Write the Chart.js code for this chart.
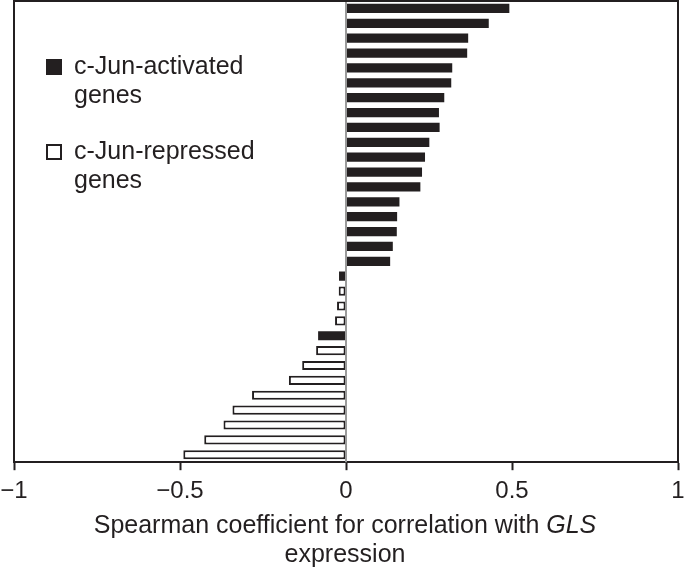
<!DOCTYPE html>
<html>
<head>
<meta charset="utf-8">
<script src="https://cdn.jsdelivr.net/npm/chart.js@4.4.0/dist/chart.umd.min.js"></script>
<style>
  body { margin: 0; background: #fff; }
  #wrap { width: 685px; height: 570px; position: relative; }
</style>
</head>
<body>
<div id="wrap"><canvas id="myChart"></canvas></div>
<script>
// genes ranked by Spearman coefficient (top to bottom)
const geneRanks = ["1","2","3","4","5","6","7","8","9","10","11","12","13","14","15","16",
    "17","18","19","20","21","22","23","24","25","26","27","28","29","30","31"];
const activatedValues = [0.492, 0.43, 0.368, 0.365, 0.32, 0.317, 0.296, 0.28, 0.282, 0.251,
    0.238, 0.229, 0.224, 0.161, 0.154, 0.153, 0.141, 0.133, -0.021, null, null, null, -0.084,
    null, null, null, null, null, null, null, null];
const repressedValues = [null, null, null, null, null, null, null, null, null, null, null, null,
    null, null, null, null, null, null, null, -0.022, -0.027, -0.033, null, -0.09, -0.132,
    -0.172, -0.283, -0.342, -0.369, -0.427, -0.49];
const legendLabels = [["c-Jun-activated", "genes"], ["c-Jun-repressed", "genes"]];
const xTicks = [-1, -0.5, 0, 0.5, 1];

const ink = "#231f20";
const fontFamily = "'Liberation Sans', Arial, sans-serif";

// box around plot area + grey zero line
const framePlugin = {
    id: "frame",
    afterDatasetsDraw(chart) {
        const { ctx, chartArea: a, scales } = chart;
        const x0 = scales.x.getPixelForValue(0);
        ctx.save();
        ctx.strokeStyle = "#9a9a9a";
        ctx.lineWidth = 2;
        ctx.beginPath();
        ctx.moveTo(x0, a.top);
        ctx.lineTo(x0, a.bottom);
        ctx.stroke();
        ctx.strokeStyle = ink;
        ctx.beginPath();
        ctx.moveTo(a.left, a.bottom);
        ctx.lineTo(a.left, a.top);
        ctx.lineTo(a.right, a.top);
        ctx.lineTo(a.right, a.bottom);
        ctx.stroke();
        ctx.restore();
    }
};

// legend in the upper left and the x axis title (GLS in italics)
const textPlugin = {
    id: "texts",
    afterDraw(chart) {
        const { ctx, chartArea: a } = chart;
        ctx.save();
        ctx.font = "25px " + fontFamily;
        ctx.fillStyle = ink;
        ctx.textBaseline = "alphabetic";

        const entries = [
            { top: 59, fill: ink, lines: legendLabels[0] },
            { top: 144, fill: "#ffffff", lines: legendLabels[1] }
        ];
        entries.forEach(e => {
            ctx.fillStyle = e.fill;
            ctx.fillRect(46, e.top, 16, 16);
            ctx.strokeStyle = ink;
            ctx.lineWidth = 2;
            ctx.strokeRect(47, e.top + 1, 14, 14);
            ctx.fillStyle = ink;
            ctx.textAlign = "left";
            e.lines.forEach((t, i) => ctx.fillText(t, 74, e.top + 15 + i * 29));
        });

        const part1 = "Spearman coefficient for correlation with ";
        const part2 = "GLS";
        const regular = "25px " + fontFamily;
        const italic = "italic 25px " + fontFamily;
        ctx.font = regular;
        const w1 = ctx.measureText(part1).width;
        ctx.font = italic;
        const w2 = ctx.measureText(part2).width;
        const cx = (a.left + a.right) / 2 - 1;
        const start = cx - (w1 + w2) / 2;
        ctx.textAlign = "left";
        ctx.font = regular;
        ctx.fillText(part1, start, 533);
        ctx.font = italic;
        ctx.fillText(part2, start + w1, 533);
        ctx.font = regular;
        ctx.textAlign = "center";
        ctx.fillText("expression", cx, 562);
        ctx.restore();
    }
};

const ctx = document.getElementById("myChart").getContext("2d");
new Chart(ctx, {
    type: "bar",
    data: {
        labels: geneRanks,
        datasets: [
            {
                label: "c-Jun-activated genes",
                data: activatedValues,
                backgroundColor: ink,
                borderColor: ink,
                borderWidth: 0,
                barPercentage: 0.62,
                categoryPercentage: 1
            },
            {
                label: "c-Jun-repressed genes",
                data: repressedValues,
                backgroundColor: "#ffffff",
                borderColor: ink,
                borderWidth: 2,
                borderSkipped: false,
                barPercentage: 0.62,
                categoryPercentage: 1
            }
        ]
    },
    options: {
        indexAxis: "y",
        responsive: true,
        maintainAspectRatio: false,
        animation: false,
        layout: { padding: { left: 14, right: 7, top: 1, bottom: 57 } },
        plugins: {
            legend: { display: false },
            tooltip: { enabled: false }
        },
        scales: {
            y: {
                stacked: true,
                display: false
            },
            x: {
                min: -1,
                max: 1,
                afterBuildTicks(scale) {
                    scale.ticks = xTicks.map(v => ({ value: v }));
                },
                afterFit(scale) {
                    // let the end labels hang over the plot edges
                    scale.paddingLeft = 0;
                    scale.paddingRight = 0;
                },
                ticks: {
                    color: ink,
                    font: { family: fontFamily, size: 24 },
                    padding: 7,
                    maxRotation: 0,
                    callback: v => (v < 0 ? "\u2212" + Math.abs(v) : String(v))
                },
                grid: {
                    drawOnChartArea: false,
                    drawTicks: true,
                    tickLength: 8,
                    tickWidth: 2,
                    tickColor: ink
                },
                border: { color: ink, width: 2 }
            }
        }
    },
    plugins: [framePlugin, textPlugin]
});
</script>
</body>
</html>
